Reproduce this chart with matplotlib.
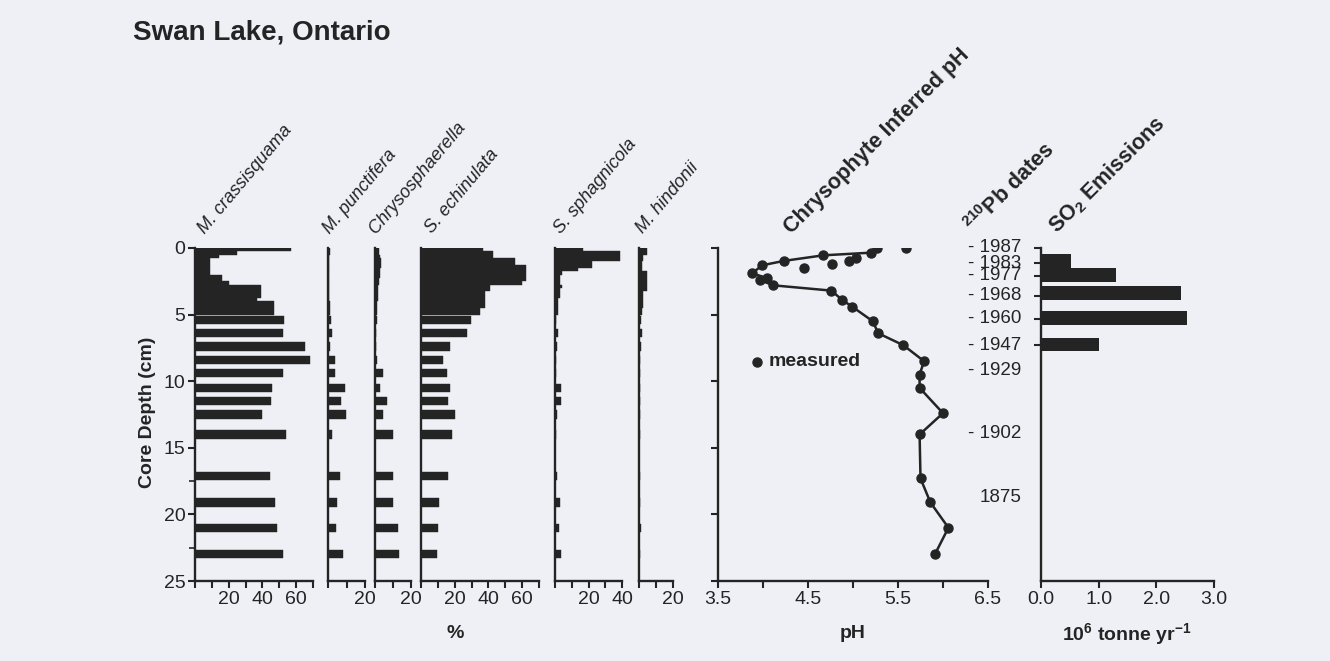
import numpy as np
import matplotlib.pyplot as plt

plt.rcParams["font.family"] = ["Liberation Sans", "DejaVu Sans"]
plt.rcParams["mathtext.default"] = "regular"

W, H = 1330, 661
BG = "#eef0f6"
INK = "#242424"

# sample depths (cm): contiguous 0.25 cm slices to 5 cm, then spot samples
depth = [0.125, 0.375, 0.625, 0.875, 1.125, 1.375, 1.625, 1.875, 2.125, 2.375,
         2.625, 2.875, 3.125, 3.375, 3.625, 3.875, 4.125, 4.375, 4.625, 4.875,
         5.4, 6.4, 7.4, 8.4, 9.4, 10.5, 11.5, 12.5, 14.0, 17.1, 19.1, 21.0, 23.0]

m_crassisquama = [57, 25, 14, 9, 9, 9, 9, 9, 16, 16,
                  20, 39, 39, 39, 39, 37, 47, 47, 47, 47,
                  53, 52, 65, 68, 52, 45.5, 45, 40, 54, 44.5, 47.5, 48.5, 52]
m_punctifera = [1.0, 1.0, 0.8, 0.8, 0.8, 0.8, 0.8, 0.8, 0.8, 0.8,
                0.8, 0.8, 0.8, 0.8, 0.8, 0.8, 1.0, 1.0, 1.0, 1.2,
                1.8, 2.3, 1.3, 3.6, 3.6, 9.0, 7.2, 9.9, 2.3, 6.7, 5.0, 4.1, 8.1]
chrysosphaerella = [2.3, 2.3, 3.0, 3.6, 3.6, 3.6, 2.7, 2.7, 2.7, 2.2,
                    2.0, 1.8, 1.8, 1.8, 1.5, 1.5, 1.3, 1.3, 1.3, 1.3,
                    1.3, 0.3, 0.3, 1.3, 4.6, 2.8, 6.5, 4.6, 9.8, 9.8, 9.8, 12.6, 13.3]
s_echinulata = [37, 43, 43, 56, 56, 62, 62, 62, 62, 62,
                60, 41, 41, 38, 38, 38, 38, 38, 35, 35,
                29.5, 27, 17, 13, 15.5, 17, 16, 20, 18.6, 16.2, 10.9, 9.9, 9.7]
s_sphagnicola = [17, 39, 39, 39, 22, 22, 14, 4, 3, 3,
                 3, 4, 3, 3, 3, 2, 2, 2, 2, 2,
                 0.5, 2.0, 1.4, 0.5, 0.5, 3.6, 3.6, 1.4, 0.3, 1.4, 3.0, 2.6, 3.4]
m_hindonii = [4.5, 4.5, 2.5, 2.5, 1.6, 1.6, 1.6, 4.5, 4.5, 4.5,
              4.5, 4.5, 4.5, 2.5, 2.5, 2.5, 2.5, 2.5, 2.0, 2.0,
              1.2, 2.0, 1.2, 0.6, 0.3, 0.3, 0.3, 0.3, 0.3, 0.3, 0.3, 1.2, 0.3]

# chrysophyte-inferred pH and measured pH
ph_depth = [0.02, 0.35, 0.55, 0.97, 1.3, 1.9, 2.25, 2.4, 2.8, 3.2, 3.9, 4.4,
            5.5, 6.4, 7.3, 8.5, 9.5, 10.5, 12.4, 14.0, 17.3, 19.1, 21.0, 23.0]
ph_inferred = [5.27, 5.2, 4.67, 4.23, 3.99, 3.88, 4.04, 3.97, 4.11, 4.76, 4.88, 4.99,
               5.22, 5.28, 5.56, 5.79, 5.74, 5.74, 6.0, 5.74, 5.75, 5.86, 6.06, 5.91]
measured_depth = [0.0, 0.77, 0.97, 1.2, 1.5]
ph_measured = [5.59, 5.03, 4.96, 4.77, 4.45]

# 210Pb dates
date_labels = ["1987", "1983", "1977", "1968", "1960", "1947", "1929", "1902", "1875"]
date_depth = [0.0, 1.15, 2.1, 3.6, 5.3, 7.3, 9.2, 13.9, 18.7]

# SO2 emissions (10^6 tonne/yr)
so2_depth = [0.98, 2.03, 3.38, 5.25, 7.25]
so2_emissions = [0.52, 1.3, 2.43, 2.54, 1.0]

species = ["M. crassisquama", "M. punctifera", "Chrysosphaerella",
           "S. echinulata", "S. sphagnicola", "M. hindonii"]
species_data = [m_crassisquama, m_punctifera, chrysosphaerella,
                s_echinulata, s_sphagnicola, m_hindonii]

# panel layout in pixels: left, width, xmax
panel_px = [(195, 118, 70), (328, 37, 20), (375, 36, 20),
            (421, 118, 70), (555, 67, 40), (639, 34, 20)]
title_px = [(205, 234), (330, 234), (376, 234), (432, 234), (561, 234), (643, 234)]

Y0, Y1 = 248, 581


def fx(px):
    return px / W


def fy(py):
    return 1 - py / H


def make_axes(left, width):
    ax = fig.add_axes([fx(left), fy(Y1), width / W, (Y1 - Y0) / H])
    ax.set_facecolor("none")
    ax.set_ylim(25, 0)
    for s in ["top", "right"]:
        ax.spines[s].set_visible(False)
    for s in ["left", "bottom"]:
        ax.spines[s].set_linewidth(1.7)
        ax.spines[s].set_color(INK)
    ax.tick_params(direction="out", length=5, width=1.5, color=INK,
                   labelsize=14, labelcolor=INK, pad=2)
    return ax


fig = plt.figure(figsize=(W / 100, H / 100), dpi=100, facecolor=BG)

depth_arr = np.array(depth)
bar_h = np.where(depth_arr < 5, 0.25, 0.62)

for i, (name, vals) in enumerate(zip(species, species_data)):
    left, width, xmax = panel_px[i]
    ax = make_axes(left, width)
    ax.barh(depth_arr, vals, height=bar_h, color=INK, edgecolor=INK, linewidth=0.3)
    ax.set_xlim(0, xmax)
    ticks = np.arange(0, xmax + 1, 10)
    ax.set_xticks(ticks)
    ax.set_xticklabels([str(t) if t in (20, 40, 60) else "" for t in ticks])
    if i == 0:
        ax.set_yticks([0, 5, 10, 15, 20, 25])
        ax.set_yticks([17.5, 22.5], minor=True)
        ax.tick_params(axis="y", which="minor", direction="out", length=4, width=1.2, color=INK)
    else:
        ax.set_yticks([])
    tx, ty = title_px[i]
    fig.text(fx(tx), fy(ty), name, rotation=50, rotation_mode="anchor",
             ha="left", va="baseline", style="italic", fontsize=13, color=INK)

fig.text(fx(147), fy(412), "Core Depth (cm)", rotation=90, ha="center", va="center",
         fontsize=14, fontweight="bold", color=INK)
fig.text(fx(455), fy(634), "%", ha="center", va="center", fontsize=14,
         fontweight="bold", color=INK)

# pH panel
axp = make_axes(718, 270)
axp.plot(ph_inferred, ph_depth, color=INK, lw=1.8, marker="o", ms=6.5,
         mfc=INK, mec=INK, zorder=3)
axp.plot(ph_measured, measured_depth, ls="none", marker="o", ms=6.5,
         mfc=INK, mec=INK, zorder=3)
axp.set_xlim(3.5, 6.5)
axp.set_xticks([3.5, 4.0, 4.5, 5.0, 5.5, 6.0, 6.5])
axp.set_xticklabels(["3.5", "", "4.5", "", "5.5", "", "6.5"])
axp.set_yticks([0, 5, 10, 15, 20, 25])
axp.set_yticklabels([])
axp.plot([3.93], [8.55], ls="none", marker="o", ms=6.5, color=INK)
axp.text(4.06, 8.5, "measured", ha="left", va="center", fontsize=14,
         fontweight="bold", color=INK)
fig.text(fx(853), fy(634), "pH", ha="center", va="center", fontsize=14,
         fontweight="bold", color=INK)
fig.text(fx(791), fy(234), "Chrysophyte Inferred pH", rotation=45, rotation_mode="anchor",
         ha="left", va="baseline", fontsize=15.5, fontweight="bold", color=INK)

# SO2 panel with 210Pb dates
axs = make_axes(1041, 173)
axs.barh(so2_depth, so2_emissions, height=1.0, color=INK)
axs.set_xlim(0, 3.0)
axs.set_xticks([0, 1, 2, 3])
axs.set_xticklabels(["0.0", "1.0", "2.0", "3.0"])
axs.set_yticks(date_depth[:6])
axs.set_yticklabels([])
for lab, d in zip(date_labels, date_depth):
    txt = lab if lab == "1875" else "- " + lab
    axs.text(-0.115, d, txt, transform=axs.get_yaxis_transform(), ha="right",
             va="center", fontsize=13.5, color=INK)
fig.text(fx(1127), fy(634), "10$^{6}$ tonne yr$^{-1}$", ha="center", va="center",
         fontsize=14, fontweight="bold", color=INK)
fig.text(fx(974), fy(234), "$^{210}$Pb dates", rotation=45, rotation_mode="anchor",
         ha="left", va="baseline", fontsize=15.5, fontweight="bold", color=INK)
fig.text(fx(1057), fy(234), "SO$_{2}$ Emissions", rotation=45, rotation_mode="anchor",
         ha="left", va="baseline", fontsize=15.5, fontweight="bold", color=INK)

fig.text(fx(133), fy(32), "Swan Lake, Ontario", ha="left", va="center",
         fontsize=20, fontweight="bold", color=INK)

fig.savefig("out.png", dpi=100, facecolor=BG)
